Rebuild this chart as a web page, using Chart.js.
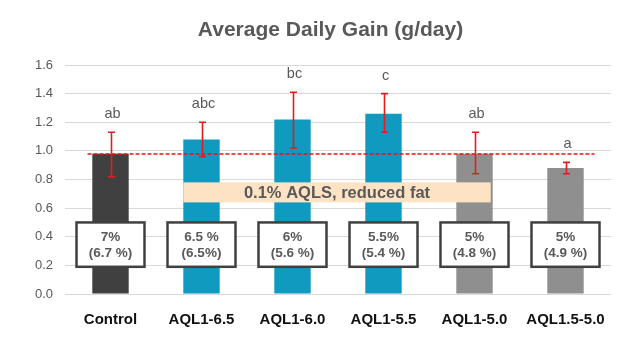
<!DOCTYPE html>
<html>
<head>
<meta charset="utf-8">
<script src="https://cdn.jsdelivr.net/npm/chart.js@4/dist/chart.umd.min.js"></script>
<style>
  html, body { margin: 0; padding: 0; background: #fff; overflow: hidden; }
  #wrap { width: 635px; height: 347px; }
  canvas { display: block; }
</style>
</head>
<body>
<div id="wrap"><canvas id="myChart" width="635" height="347"></canvas></div>
<script>
// data
const categories = ["Control", "AQL1-6.5", "AQL1-6.0", "AQL1-5.5", "AQL1-5.0", "AQL1.5-5.0"];
const gain = [0.98, 1.08, 1.22, 1.26, 0.98, 0.88];
const errLow = [0.82, 0.96, 1.02, 1.13, 0.84, 0.84];
const errHigh = [1.13, 1.20, 1.41, 1.40, 1.13, 0.92];
const letters = ["ab", "abc", "bc", "c", "ab", "a"];
const targetFat = ["7%", "6.5 %", "6%", "5.5%", "5%", "5%"];
const actualFat = ["(6.7 %)", "(6.5%)", "(5.6 %)", "(5.4 %)", "(4.8 %)", "(4.9 %)"];
const controlLevel = 0.98;
const titleText = "Average Daily Gain (g/day)";
const bandText = "0.1% AQLS, reduced fat";
const bandRange = [0.64, 0.78];
const boxRange = [0.19, 0.50];

const font = "'Liberation Sans', Arial, sans-serif";
const grey = "#595959";

//draws the title, red dashed line, band, boxes, error bars and letters
const overlay = {
  id: "overlay",
  afterDatasetsDraw(chart) {
    const ctx = chart.ctx;
    const y = chart.scales.y;
    const bars = chart.getDatasetMeta(0).data;
    ctx.save();

    //title (a bit right of the canvas centre, like the original)
    ctx.fillStyle = grey;
    ctx.font = `bold 21px ${font}`;
    ctx.textAlign = "center";
    ctx.textBaseline = "middle";
    ctx.fillText(titleText, chart.width / 2 + 13, 30);

    //dashed control line
    const yl = Math.round(y.getPixelForValue(controlLevel));
    ctx.strokeStyle = "#ee1111";
    ctx.lineWidth = 1.5;
    ctx.setLineDash([4, 2]);
    ctx.beginPath();
    ctx.moveTo(bars[0].x - 23, yl);
    ctx.lineTo(bars[5].x + 29, yl);
    ctx.stroke();
    ctx.setLineDash([]);

    //band
    const bl = bars[1].x - bars[1].width / 2;
    const br = bars[4].x + bars[4].width / 2 - 2;
    const bt = y.getPixelForValue(bandRange[1]);
    const bb = y.getPixelForValue(bandRange[0]);
    ctx.fillStyle = "#fde3c3";
    ctx.fillRect(bl, bt, br - bl, bb - bt);
    ctx.fillStyle = grey;
    ctx.font = `bold 16.5px ${font}`;
    ctx.fillText(bandText, (bl + br) / 2, (bt + bb) / 2 + 1);

    //fat boxes
    const top = y.getPixelForValue(boxRange[1]);
    const bot = y.getPixelForValue(boxRange[0]);
    categories.forEach((c, i) => {
      const cx = bars[i].x;
      const w = 68;
      ctx.fillStyle = "#fff";
      ctx.fillRect(cx - w / 2, top, w, bot - top);
      ctx.strokeStyle = "#404040";
      ctx.lineWidth = 2.5;
      ctx.strokeRect(cx - w / 2, top, w, bot - top);
      ctx.fillStyle = grey;
      ctx.font = `bold 13.5px ${font}`;
      const cy = (top + bot) / 2;
      ctx.fillText(targetFat[i], cx, cy - 7);
      ctx.fillText(actualFat[i], cx, cy + 9);
    });

    //error bars
    ctx.strokeStyle = "#e41c1c";
    ctx.lineWidth = 1.6;
    categories.forEach((c, i) => {
      const cx = Math.round(bars[i].x) + 0.5;
      const yh = y.getPixelForValue(errHigh[i]);
      const ylo = y.getPixelForValue(errLow[i]);
      ctx.beginPath();
      ctx.moveTo(cx, yh);
      ctx.lineTo(cx, ylo);
      ctx.moveTo(cx - 3.5, yh);
      ctx.lineTo(cx + 3.5, yh);
      ctx.moveTo(cx - 3.5, ylo);
      ctx.lineTo(cx + 3.5, ylo);
      ctx.stroke();
      //letters
      ctx.fillStyle = grey;
      ctx.font = `14.5px ${font}`;
      ctx.fillText(letters[i], cx + 1, yh - 18);
    });

    ctx.restore();
  },
};

const ctx = document.getElementById("myChart");
const myChart = new Chart(ctx, {
  type: "bar",
  data: {
    labels: categories,
    datasets: [
      {
        label: "Average Daily Gain",
        data: gain,
        backgroundColor: ["#404040", "#119abf", "#119abf", "#119abf", "#8f8f8f", "#8f8f8f"],
        barPercentage: 0.4,
        categoryPercentage: 1,
      },
    ],
  },
  options: {
    responsive: false,
    animation: false,
    layout: { padding: { left: 35, right: 24, bottom: 18, top: 65 } },
    plugins: {
      legend: { display: false },
      tooltip: { enabled: false },
      title: { display: false },
    },
    scales: {
      x: {
        grid: { display: false, drawTicks: false },
        border: { display: false },
        ticks: {
          color: "#111",
          font: { family: font, size: 15, weight: "bold" },
          padding: 17,
          maxRotation: 0,
          autoSkip: false,
        },
        afterFit: (s) => {
          s.height = 35;
        },
      },
      y: {
        min: 0,
        max: 1.6,
        border: { display: false },
        grid: { color: "#d9d9d9", drawTicks: false },
        ticks: {
          stepSize: 0.2,
          color: grey,
          padding: 12,
          font: { family: font, size: 13 },
          callback: (v) => v.toFixed(1),
        },
        afterFit: (s) => {
          s.width = 30;
        },
      },
    },
  },
  plugins: [overlay],
});
</script>
</body>
</html>
